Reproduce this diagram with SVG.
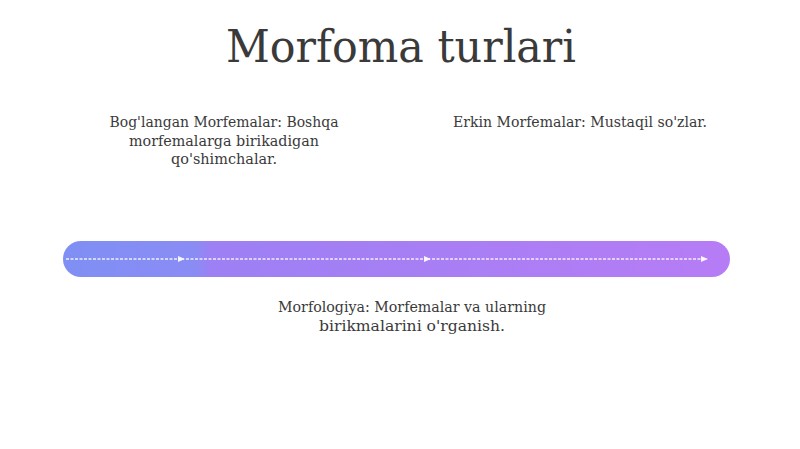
<svg xmlns="http://www.w3.org/2000/svg" width="800" height="449" viewBox="0 0 800 449">
<defs>
<linearGradient id="bar" x1="0" y1="0" x2="1" y2="0">
<stop offset="0" stop-color="#7f8ff4"/>
<stop offset="0.2" stop-color="#8a8cf4"/>
<stop offset="0.22" stop-color="#9d80f4"/>
<stop offset="1" stop-color="#b67cf5"/>
</linearGradient>
<marker id="arr" markerWidth="8" markerHeight="8" refX="6" refY="4" orient="auto" markerUnits="userSpaceOnUse">
<path d="M0,1 L7,4 L0,7 z" fill="#ffffff" fill-opacity="0.9"/>
</marker>
<style>
.t{font-family:"DejaVu Serif","Liberation Serif",serif;fill:#3a3a3a;}
.lbl{font-size:14px;text-anchor:middle;}
.c{stroke:#ffffff;stroke-opacity:0.85;stroke-width:1.5;fill:none;stroke-dasharray:3 1.5;}
</style>
</defs>
<rect width="800" height="449" fill="#ffffff"/>
<g id="title">
<text class="t" x="401" y="62" font-size="44" text-anchor="middle" textLength="350" lengthAdjust="spacingAndGlyphs">Morfoma turlari</text>
</g>
<g id="timeline">
<rect x="63" y="241" width="667" height="36" rx="18" fill="url(#bar)"/>
</g>
<g id="connectors">
<line class="c" x1="66" y1="259" x2="184" y2="259" marker-end="url(#arr)"/>
<line class="c" x1="186" y1="259" x2="430" y2="259" marker-end="url(#arr)"/>
<line class="c" x1="432" y1="259" x2="707" y2="259" marker-end="url(#arr)"/>
</g>
<g id="node-boglangan">
<text class="t lbl" x="224" y="127" textLength="229" lengthAdjust="spacingAndGlyphs">Bog'langan Morfemalar: Boshqa</text>
<text class="t lbl" x="224" y="146" textLength="190" lengthAdjust="spacingAndGlyphs">morfemalarga birikadigan</text>
<text class="t lbl" x="224" y="164" textLength="106" lengthAdjust="spacingAndGlyphs">qo'shimchalar.</text>
</g>
<g id="node-erkin">
<text class="t lbl" x="580" y="127" textLength="254" lengthAdjust="spacingAndGlyphs">Erkin Morfemalar: Mustaqil so'zlar.</text>
</g>
<g id="node-morfologiya">
<text class="t lbl" x="412" y="312" textLength="268" lengthAdjust="spacingAndGlyphs">Morfologiya: Morfemalar va ularning</text>
<text class="t lbl" x="412" y="331" textLength="186" lengthAdjust="spacingAndGlyphs">birikmalarini o'rganish.</text>
</g>
</svg>
